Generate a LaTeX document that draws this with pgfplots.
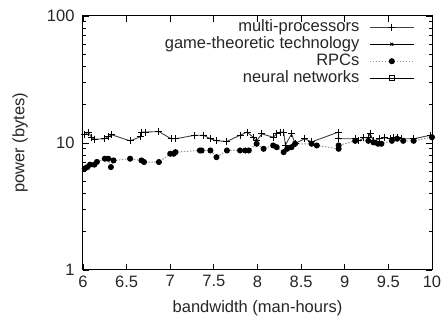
\documentclass[border=0pt]{standalone}
\usepackage{fontspec}
\setmainfont{Liberation Sans}
\usepackage{pgfplots}
\pgfplotsset{compat=1.18}
\newcommand\ff{\fontsize{16.5}{18}\selectfont}
\begin{document}
\begin{tikzpicture}
\begin{axis}[
  scale only axis, width=349pt, height=254pt,
  at={(0,0)}, anchor=south west,
  xmin=6, xmax=10, ymode=log, ymin=1, ymax=100,
  log ticks with fixed point,
  /pgf/number format/assume math mode=true,
  xtick={6,6.5,7,7.5,8,8.5,9,9.5,10},
  ytick={1,10,100},
  tick align=inside,
  major tick length=6pt, minor tick length=3.5pt,
  axis line style={line width=1pt},
  every tick/.style={line width=0.8pt, black},
  tick label style={font=\ff, text=black!85},
  xticklabel style={yshift=-2pt},
  yticklabel style={xshift=-5pt},
  xlabel={bandwidth (man-hours)},
  ylabel={power (bytes)},
  every axis x label/.style={at={(rel axis cs:0.5,0)}, yshift=-38pt, anchor=center, font=\ff, text=black!85},
  every axis y label/.style={at={(rel axis cs:0,0.5)}, xshift=-63pt, rotate=90, anchor=center, font=\ff, text=black!85},
  legend style={at={(rel axis cs:0.95,0.99)}, anchor=north east, draw=none, fill=none,
    font=\ff, text=black!85, row sep=0pt, inner sep=0pt, column sep=9pt,
    nodes={inner sep=1pt, text height=11.5pt, text depth=3.5pt}},
  legend cell align=right,
  legend plot pos=right,
  legend image code/.code={\draw[mark repeat=2, mark phase=2, #1] plot coordinates {(0pt,0pt) (22pt,0pt) (44pt,0pt)};},
]
\addplot[black!75, line width=0.9pt, mark=+, mark size=3.5pt, mark options={solid, black, line width=1pt}] coordinates {
(6.02,11.6) (6.06,12.2) (6.10,11.0) (6.13,10.7) (6.25,10.8) (6.29,11.2) (6.33,11.6)
(6.54,10.4) (6.66,11.2) (6.67,12.2) (6.72,12.2) (6.87,12.3) (7.01,10.8) (7.06,10.8)
(7.28,11.5) (7.38,11.5) (7.46,10.8) (7.53,10.4) (7.65,10.3) (7.80,11.5) (7.88,12.2)
(7.95,11.1) (7.99,10.4) (8.05,11.8) (8.18,11.1) (8.22,11.8) (8.26,12.2) (8.30,12.2)
(8.32,9.6) (8.39,11.8) (8.43,9.9) (8.54,10.8) (8.62,10.2) (8.93,12.2) (8.93,10.8)
(9.12,10.8) (9.16,10.4) (9.22,11.0) (9.27,11.1) (9.29,11.8) (9.33,10.4) (9.40,10.8)
(9.46,11.0) (9.52,10.8) (9.56,11.1) (9.60,11.1) (9.65,10.8) (9.79,10.8) (9.98,11.5)
};
\addlegendentry{multi-processors}
\addlegendimage{black, line width=0.9pt, mark=x, mark size=2pt, mark options={solid}}
\addlegendentry{game-theoretic technology}
\addplot[black!40, line width=1pt, dash pattern=on 1.5pt off 1.5pt, mark=*, mark size=2.5pt, mark options={solid, black, fill=black}] coordinates {
(6.02,6.3) (6.05,6.46) (6.08,6.75) (6.13,6.75) (6.16,7.1) (6.25,7.52) (6.29,7.52)
(6.32,6.46) (6.35,7.29) (6.54,7.52) (6.67,7.29) (6.70,7.08) (6.87,7.08) (7.00,8.23)
(7.04,8.23) (7.06,8.47) (7.34,8.73) (7.36,8.73) (7.46,8.73) (7.53,7.74) (7.65,8.73)
(7.80,8.73) (7.86,8.73) (7.90,8.73) (7.99,9.86) (8.07,9.0) (8.18,9.56) (8.22,9.27)
(8.30,8.47) (8.34,9.0) (8.39,9.27) (8.43,9.86) (8.62,9.86) (8.68,9.56) (8.93,9.0)
(8.93,9.56) (9.12,10.4) (9.27,10.4) (9.33,10.1) (9.38,9.86) (9.42,9.86) (9.54,10.4)
(9.60,10.8) (9.67,10.4) (9.79,10.4) (10.0,11.1)
};
\addlegendentry{RPCs}
\addlegendimage{black, line width=0.9pt, mark=square, mark size=2.4pt, mark options={solid}}
\addlegendentry{neural networks}
\end{axis}
\pgfresetboundingbox
\path (-83pt,-50pt) rectangle (362pt,270pt);
\end{tikzpicture}
\end{document}
